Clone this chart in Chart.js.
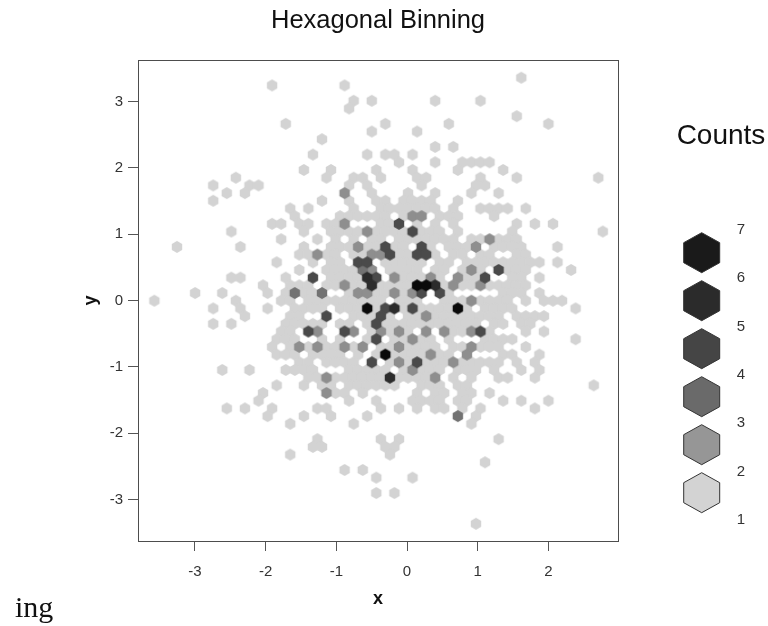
<!DOCTYPE html>
<html>
<head>
<meta charset="utf-8">
<title>Hexagonal Binning</title>
<script src="https://cdn.jsdelivr.net/npm/chart.js@4"></script>
<style>
  html, body { margin: 0; padding: 0; background: #fff; }
  #wrap { position: relative; width: 768px; height: 626px; }
</style>
</head>
<body>
<div id="wrap"><canvas id="myChart" width="768" height="626"></canvas></div>
<script>
// hexbin cells: row number from the top, then half-column numbers
const binX0 = -3.574, binXStep = 0.06407;
const binY0 = 3.36, binYStep = 0.11599;

const count1Rows = [
  [0, 81],
  [1, 26, 42],
  [3, 44, 48, 62, 72],
  [4, 43],
  [5, 80],
  [6, 29, 51, 65, 87],
  [7, 48, 58],
  [8, 37],
  [9, 62, 66],
  [10, 35, 47, 51, 53, 57],
  [11, 54, 62, 68, 70, 72, 74],
  [12, 33, 39, 49, 57, 67, 77],
  [13, 18, 38, 44, 46, 50, 58, 60, 72, 80, 98],
  [14, 13, 21, 23, 43, 47, 59, 71, 73],
  [15, 16, 20, 48, 56, 62, 70, 76],
  [16, 13, 37, 43, 49, 51, 55, 57, 59, 61, 67],
  [17, 30, 34, 44, 50, 52, 54, 56, 58, 60, 62, 66, 72, 74, 76, 78, 82],
  [18, 31, 41, 43, 45, 47, 49, 51, 55, 63, 65, 67, 75],
  [19, 26, 28, 32, 34, 38, 40, 50, 52, 58, 62, 66, 80, 84, 88],
  [20, 17, 33, 39, 41, 43, 45, 49, 51, 53, 55, 59, 61, 63, 67, 79, 99],
  [21, 28, 36, 40, 44, 48, 50, 54, 56, 58, 60, 62, 64, 66, 70, 72, 76, 78, 80],
  [22, 5, 19, 33, 39, 41, 43, 47, 49, 53, 55, 61, 65, 67, 69, 75, 77, 79, 81, 89],
  [23, 32, 34, 38, 40, 44, 46, 54, 56, 62, 66, 68, 72, 74, 80, 82],
  [24, 27, 35, 39, 41, 51, 53, 55, 57, 59, 63, 65, 69, 71, 73, 75, 77, 79, 81, 83, 85, 89],
  [25, 32, 38, 40, 42, 44, 52, 54, 56, 58, 62, 64, 68, 72, 78, 80, 82, 92],
  [26, 17, 19, 29, 39, 41, 43, 45, 55, 57, 59, 63, 69, 71, 79, 81, 85],
  [27, 24, 30, 32, 34, 38, 40, 44, 46, 50, 52, 54, 56, 64, 68, 70, 74, 76, 78, 80, 82],
  [28, 9, 15, 25, 29, 33, 35, 43, 49, 51, 55, 65, 77, 79, 81, 85],
  [29, 0, 18, 28, 30, 34, 36, 38, 40, 42, 44, 46, 48, 50, 54, 56, 58, 64, 66, 68, 72, 74, 76, 78, 82, 86, 88, 90],
  [30, 13, 19, 25, 31, 33, 35, 37, 41, 43, 45, 49, 55, 59, 61, 63, 65, 69, 73, 75, 77, 79, 93],
  [31, 20, 30, 32, 44, 46, 48, 52, 56, 58, 62, 64, 66, 68, 70, 72, 74, 76, 80, 82, 84, 86],
  [32, 13, 17, 29, 31, 33, 35, 37, 41, 43, 47, 51, 53, 55, 57, 59, 61, 63, 65, 67, 69, 71, 75, 77, 81, 83],
  [33, 28, 30, 48, 52, 56, 66, 68, 74, 82, 86],
  [34, 27, 29, 31, 37, 41, 47, 53, 55, 59, 61, 65, 73, 75, 77, 79, 93],
  [35, 26, 30, 34, 38, 40, 44, 50, 52, 56, 58, 60, 62, 66, 68, 72, 74, 76, 82],
  [36, 27, 29, 31, 35, 37, 39, 41, 45, 49, 53, 55, 57, 59, 63, 65, 77, 79, 85],
  [37, 32, 34, 38, 40, 42, 44, 52, 56, 60, 62, 64, 68, 70, 72, 74, 76, 80, 84],
  [38, 15, 21, 29, 31, 33, 35, 43, 45, 47, 49, 51, 55, 59, 61, 63, 67, 69, 71, 75, 81, 85],
  [39, 34, 36, 40, 42, 44, 46, 48, 50, 54, 56, 58, 60, 66, 70, 76, 78, 84],
  [40, 27, 33, 37, 39, 43, 45, 47, 49, 51, 53, 59, 61, 63, 67, 69, 97],
  [41, 24, 40, 42, 46, 58, 62, 64, 68, 70, 74],
  [42, 23, 43, 49, 57, 59, 61, 63, 67, 69, 77, 81, 87],
  [43, 16, 20, 26, 36, 38, 50, 54, 58, 62, 64, 68, 72, 84],
  [44, 25, 33, 39, 47, 71],
  [45, 30, 44, 70],
  [47, 36, 50, 54, 76],
  [48, 35, 37, 51, 53],
  [49, 30, 52],
  [50, 73],
  [51, 42, 46],
  [52, 49, 57],
  [54, 49, 53],
  [58, 71]
];
const count2Cells = [[15,42],[18,57],[18,59],[19,42],[20,47],[21,74],[22,45],[22,71],[23,36],[23,48],[23,50],[25,48],[25,70],[26,53],[26,61],[26,67],[27,42],[27,66],[27,72],[28,45],[28,47],[28,53],[28,57],[29,70],[31,60],[33,36],[33,44],[33,50],[33,54],[33,60],[33,64],[33,70],[34,57],[35,32],[35,36],[35,42],[35,46],[35,54],[35,70],[36,61],[36,69],[37,54],[37,66],[38,57],[39,38],[39,62],[41,38]];
const count3Cells = [[25,46],[28,31],[28,37],[44,67]];
const count4Cells = [[19,54],[20,57],[22,51],[22,59],[23,52],[23,58],[23,60],[24,45],[24,47],[25,76],[26,35],[26,49],[26,73],[28,59],[28,63],[30,51],[30,57],[31,38],[31,50],[32,49],[33,34],[33,42],[33,72],[34,49],[37,48],[37,58]];
const count5Cells = [[26,47],[27,48],[27,62],[30,53],[39,52]];
const count7Cells = [[27,58],[27,60],[30,47],[30,67],[36,51]];

const xTicks = [-3, -2, -1, 0, 1, 2];
const yTicks = [-3, -2, -1, 0, 1, 2, 3];
const legendLabels = ["7", "6", "5", "4", "3", "2", "1"];
const legendColors = ["#1a1a1a", "#2b2b2b", "#454545", "#6a6a6a", "#969696", "#d3d3d3"];

function cell(r, h) {
  return { x: binX0 + h * binXStep, y: binY0 - r * binYStep };
}
const count1Cells = count1Rows.flatMap(row => row.slice(1).map(h => [row[0], h]));

function hexPath(c, x, y, w, h) {
  c.beginPath();
  c.moveTo(x, y - h / 2);
  c.lineTo(x + w / 2, y - h / 4);
  c.lineTo(x + w / 2, y + h / 4);
  c.lineTo(x, y + h / 2);
  c.lineTo(x - w / 2, y + h / 4);
  c.lineTo(x - w / 2, y - h / 4);
  c.closePath();
}
// the library takes a canvas as a point style
function hexSprite(color) {
  const cv = document.createElement("canvas");
  cv.width = 14; cv.height = 14;
  const c = cv.getContext("2d");
  c.fillStyle = color;
  hexPath(c, 7, 7, 10.4, 12);
  c.fill();
  return cv;
}
function hexSet(cells, color) {
  return {
    data: cells.map(p => cell(p[0], p[1])),
    pointStyle: hexSprite(color),
    pointRadius: 5,
    pointHoverRadius: 5,
    showLine: false
  };
}

const extras = {
  id: "extras",
  afterDraw(chart) {
    const c = chart.ctx, a = chart.chartArea;
    c.save();
    c.strokeStyle = "#4d4d4d";
    c.lineWidth = 1;
    c.strokeRect(a.left + 0.5, a.top + 0.5, a.right - a.left, a.bottom - a.top);

    c.fillStyle = "#111";
    c.font = "28px 'Liberation Sans'";
    c.textAlign = "center";
    c.textBaseline = "middle";
    c.fillText("Counts", 721, 136);

    c.strokeStyle = "#333";
    legendColors.forEach((col, i) => {
      const y = 252.7 + i * 48;
      hexPath(c, 701.7, y, 36, 40);
      c.fillStyle = col;
      c.fill();
      c.stroke();
    });
    c.fillStyle = "#333";
    c.font = "15px 'Liberation Sans'";
    legendLabels.forEach((t, i) => c.fillText(t, 741, 230 + i * 48.3));

    c.fillStyle = "#111";
    c.font = "30px 'Liberation Serif'";
    c.textAlign = "left";
    c.fillText("ing", 15, 609);
    c.restore();
  }
};

new Chart(document.getElementById("myChart"), {
  type: "scatter",
  data: {
    // first dataset is painted last, so the dark cells go first
    datasets: [
      hexSet(count7Cells, "#0a0a0a"),
      hexSet(count5Cells, "#2c2c2c"),
      hexSet(count4Cells, "#4a4a4a"),
      hexSet(count3Cells, "#727272"),
      hexSet(count2Cells, "#8e8e8e"),
      hexSet(count1Cells, "#d3d3d3")
    ]
  },
  plugins: [extras],
  options: {
    responsive: false,
    animation: false,
    layout: { padding: { top: 0, right: 150, bottom: 0, left: 0 } },
    plugins: {
      legend: { display: false },
      tooltip: { enabled: false },
      title: {
        display: true,
        text: "Hexagonal Binning",
        fullSize: false,
        color: "#111",
        font: { family: "'Liberation Sans'", size: 25.5, weight: "normal", lineHeight: 1.2 },
        padding: { top: 6, bottom: 23.4 }
      }
    },
    scales: {
      x: {
        type: "linear",
        min: -3.805,
        max: 2.984,
        afterFit: s => { s.height = 85; },
        afterBuildTicks: s => { s.ticks = xTicks.map(v => ({ value: v })); },
        ticks: { color: "#333", font: { family: "'Liberation Sans'", size: 15 }, padding: 12, maxRotation: 0 },
        grid: { drawOnChartArea: false, tickLength: 10, color: "#555" },
        border: { color: "#4d4d4d" },
        title: {
          display: true, text: "x", color: "#111",
          font: { family: "'Liberation Sans'", size: 18, weight: "bold" },
          padding: { top: 0, bottom: 16 }
        }
      },
      y: {
        type: "linear",
        min: -3.627,
        max: 3.627,
        afterFit: s => { s.width = 138; },
        afterBuildTicks: s => { s.ticks = yTicks.map(v => ({ value: v })); },
        ticks: { color: "#333", font: { family: "'Liberation Sans'", size: 15 }, padding: 5 },
        grid: { drawOnChartArea: false, tickLength: 10, color: "#555" },
        border: { color: "#4d4d4d" },
        title: {
          display: true, text: "y", color: "#111",
          font: { family: "'Liberation Sans'", size: 18, weight: "bold" },
          padding: { top: 80, bottom: 0 }
        }
      }
    }
  }
});
</script>
</body>
</html>
